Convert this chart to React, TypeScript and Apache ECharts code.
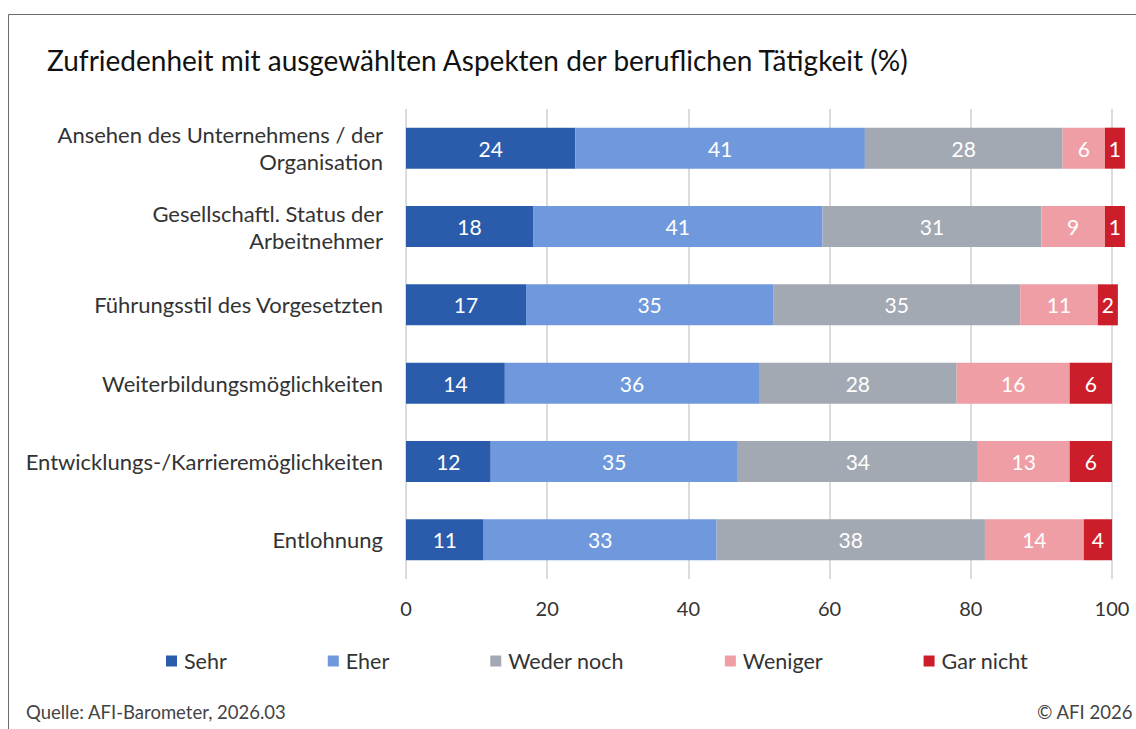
import React, { useEffect, useRef } from "react";
import * as echarts from "echarts";

const categories = [
  "Ansehen des Unternehmens / der\nOrganisation",
  "Gesellschaftl. Status der\nArbeitnehmer",
  "Führungsstil des Vorgesetzten",
  "Weiterbildungsmöglichkeiten",
  "Entwicklungs-/Karrieremöglichkeiten",
  "Entlohnung",
];
const seriesNames = ["Sehr", "Eher", "Weder noch", "Weniger", "Gar nicht"];
const sehr = [24, 18, 17, 14, 12, 11];
const eher = [41, 41, 35, 36, 35, 33];
const wederNoch = [28, 31, 35, 28, 34, 38];
const weniger = [6, 9, 11, 16, 13, 14];
const garNicht = [1, 1, 2, 6, 6, 4];
const colors = ["#2B5CAB", "#6F99DC", "#A2A9B2", "#F09EA5", "#CC1E2A"];
const xTicks = [0, 20, 40, 60, 80, 100];

const FONT = "Lato, 'Open Sans', sans-serif";

export default function App() {
  const ref = useRef<HTMLDivElement>(null);
  useEffect(() => {
    if (!ref.current) return;
    const chart = echarts.init(ref.current, undefined, { renderer: "svg" });
    const values = [sehr, eher, wederNoch, weniger, garNicht];
    chart.setOption({
      animation: false,
      textStyle: { fontFamily: FONT },
      title: {
        text: "Zufriedenheit mit ausgewählten Aspekten der beruflichen Tätigkeit (%)",
        left: 42,
        top: 41,
        textStyle: { fontFamily: FONT, fontSize: 28, fontWeight: "normal", color: "#111" },
      },
      graphic: [
        {
          type: "rect",
          shape: { x: 8.5, y: 14.5, width: 1200, height: 800 },
          style: { fill: "none", stroke: "#6b6b6b", lineWidth: 1 },
          silent: true,
        },
        {
          type: "text",
          left: 26,
          top: 702,
          style: { text: "Quelle: AFI-Barometer, 2026.03", fontFamily: FONT, fontSize: 18.5, fill: "#444" },
        },
        {
          type: "text",
          right: 3,
          top: 702,
          style: { text: "© AFI 2026", fontFamily: FONT, fontSize: 18.5, fill: "#444" },
        },
      ],
      legend: {
        left: 166,
        top: 650,
        padding: 0,
        itemWidth: 11,
        itemHeight: 11,
        itemGap: 101,
        icon: "rect",
        textStyle: { fontFamily: FONT, fontSize: 21.5, color: "#333", padding: [0, 0, 0, 2] },
        data: seriesNames,
      },
      grid: { left: 406, right: 24, top: 109, height: 470, containLabel: false },
      xAxis: {
        type: "value",
        min: 0,
        max: 100,
        interval: 20,
        axisLine: { show: false },
        axisTick: { show: false },
        axisLabel: {
          fontFamily: FONT,
          fontSize: 20,
          color: "#333",
          margin: 19,
          formatter: (v: number) => (xTicks.includes(v) ? String(v) : ""),
        },
        splitLine: { show: true, lineStyle: { color: "#dcdcdc", width: 2 } },
      },
      yAxis: {
        type: "category",
        inverse: true,
        data: categories,
        axisLine: { show: false },
        axisTick: { show: false },
        axisLabel: {
          fontFamily: FONT,
          fontSize: 22,
          color: "#333",
          margin: 23,
          lineHeight: 27,
          align: "right",
        },
      },
      series: seriesNames.map((name, i) => ({
        name,
        type: "bar",
        stack: "total",
        barWidth: 41,
        barMinHeight: i === 4 ? 20 : 0,
        clip: false,
        data: values[i],
        itemStyle: { color: colors[i] },
        label: {
          show: true,
          position: "inside",
          color: "#fff",
          fontFamily: FONT,
          fontSize: 21,
        },
      })),
    });
    return () => chart.dispose();
  }, []);
  return (
    <div
      ref={ref}
      style={{ position: "absolute", left: 0, top: 0, width: 1136, height: 729, background: "#fff" }}
    />
  );
}
